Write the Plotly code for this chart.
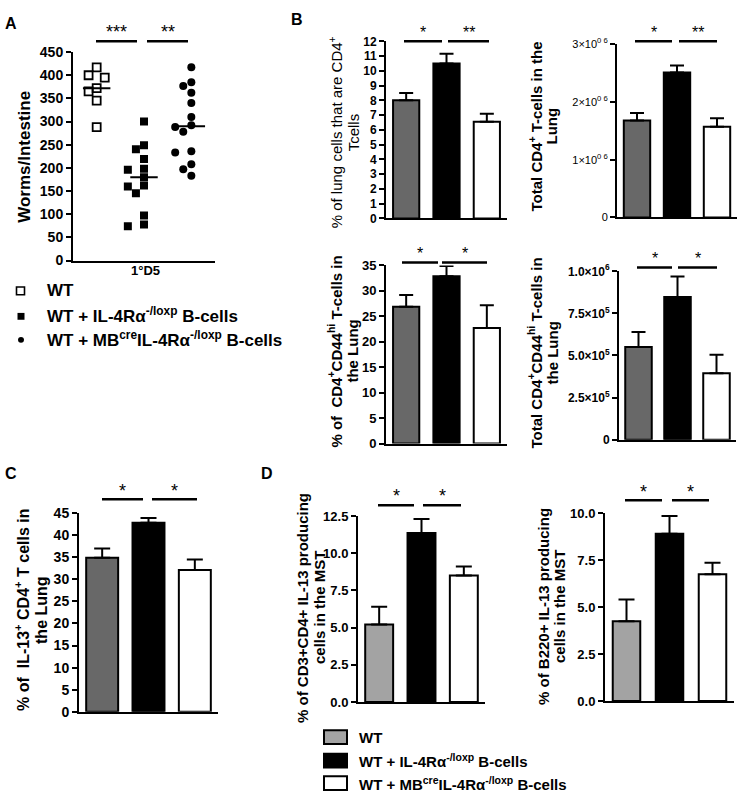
import plotly.graph_objects as go

W, H = 740, 801
FONT = "Liberation Sans, Arial, sans-serif"

# ---------------- data ----------------
groups = ["WT", "WT + IL-4Rα-/loxp B-cells", "WT + MBcre IL-4Rα-/loxp B-cells"]

# Panel A: worms per intestine (1°D5)
worms_wt = [417, 400, 395, 372, 365, 345, 288]
worms_il4 = [300, 249, 240, 219, 198, 196, 180, 162, 160, 145, 97, 78, 74]
worms_mb = [417, 385, 377, 362, 340, 310, 292, 288, 278, 236, 233, 208, 197, 183]

# Panel B
cd4_pct = [8.0, 10.5, 6.55]
cd4_pct_sem = [0.5, 0.65, 0.55]
cd4_total = [1.68e6, 2.51e6, 1.57e6]
cd4_total_sem = [0.13e6, 0.12e6, 0.15e6]
cd44_pct = [26.9, 32.9, 22.7]
cd44_pct_sem = [2.3, 2.0, 4.5]
cd44_total = [5.5e5, 8.47e5, 3.95e5]
cd44_total_sem = [0.9e5, 1.22e5, 1.09e5]
# Panel C
il13_cd4_pct = [34.9, 42.8, 32.1]
il13_cd4_pct_sem = [2.1, 1.1, 2.4]
# Panel D
mst_cd3cd4_pct = [5.2, 11.35, 8.5]
mst_cd3cd4_pct_sem = [1.2, 0.95, 0.6]
mst_b220_pct = [4.25, 8.9, 6.75]
mst_b220_pct_sem = [1.15, 0.95, 0.6]

# tick labels
b2_ticks = [0, 1e6, 2e6, 3e6]
b2_ticktext = ["0", "1×10<sup>0 6</sup>", "2×10<sup>0 6</sup>", "3×10<sup>0 6</sup>"]
b4_ticks = [0, 2.5e5, 5e5, 7.5e5, 1e6]
b4_ticktext = ["0", "2.5×10<sup>5</sup>", "5.0×10<sup>5</sup>", "7.5×10<sup>5</sup>", "1.0×10<sup>6</sup>"]
d_ticks1 = [0, 2.5, 5, 7.5, 10, 12.5]
d_ticks2 = [0, 2.5, 5, 7.5, 10]

DARK = "#686868"
LIGHT = "#a3a3a3"


def px(x):
    return x / W


def py(y):
    return 1 - y / H


fig = go.Figure()
layout = dict(width=W, height=H, margin=dict(l=0, r=0, t=0, b=0),
              paper_bgcolor="white", plot_bgcolor="white", showlegend=False,
              font=dict(family=FONT, color="black"))
shapes = []
annotations = []


def add_axes(n, x0, x1, ybot, ytop, yrange, tickvals, ticktext, tsize, bold=True):
    xa = dict(domain=[px(x0), px(x1)], range=[-0.5, 2.5], anchor="y%d" % n,
              showline=True, linecolor="black", linewidth=2, ticks="",
              showticklabels=False, showgrid=False, zeroline=False, fixedrange=True)
    ya = dict(domain=[py(ybot), py(ytop)], range=yrange, anchor="x%d" % n,
              showline=True, linecolor="black", linewidth=2, ticks="outside",
              ticklen=5, tickwidth=2, tickcolor="black", tickvals=tickvals,
              ticktext=ticktext, showgrid=False, zeroline=False, fixedrange=True,
              tickfont=dict(family=FONT, size=tsize, color="black",
                            weight="bold" if bold else "normal"))
    layout["xaxis" if n == 1 else "xaxis%d" % n] = xa
    layout["yaxis" if n == 1 else "yaxis%d" % n] = ya


def add_bars(n, vals, sems, colors, width, capw):
    fig.add_trace(go.Bar(
        x=[0, 1, 2], y=vals, width=width,
        marker=dict(color=colors, line=dict(color="black", width=2)),
        error_y=dict(type="data", array=sems, arrayminus=[0, 0, 0], symmetric=False,
                     color="black", thickness=2, width=capw),
        xaxis="x%d" % n, yaxis="y%d" % n, hoverinfo="skip"))


def text(x, y, s, size, bold=True, angle=0, xanchor="center", yanchor="middle"):
    annotations.append(dict(
        x=px(x), y=py(y), xref="paper", yref="paper", text=s, showarrow=False,
        textangle=angle, xanchor=xanchor, yanchor=yanchor,
        font=dict(family=FONT, size=size, color="black",
                  weight="bold" if bold else "normal")))


def sig(x0, x1, y, star, size=16):
    shapes.append(dict(type="line", xref="paper", yref="paper",
                       x0=px(x0), x1=px(x1), y0=py(y), y1=py(y),
                       line=dict(color="black", width=2.5)))
    text((x0 + x1) / 2, y - 9, star, size, bold=False)


# ---------------- Panel A ----------------
add_axes(1, 73, 215, 257, 44, [0, 450], list(range(0, 451, 50)),
         [str(v) for v in range(0, 451, 50)], 14)

A_PX_X = (215 - 73) / 3.0
A_PX_Y = (257 - 44) / 450.0


def swarm(values, diam=8.5):
    placed, offs = [], []
    for v in values:
        yv = v * A_PX_Y
        for k in [0, -1, 1, -2, 2, -3, 3]:
            xv = k * diam * 0.95
            if all((xv - a) ** 2 + (yv - b) ** 2 >= diam ** 2 for a, b in placed):
                break
        placed.append((xv, yv))
        offs.append(xv / A_PX_X)
    return offs


def median(v):
    s = sorted(v)
    m = len(s) // 2
    return s[m] if len(s) % 2 else (s[m - 1] + s[m]) / 2


for i, (vals, sym, size) in enumerate([(worms_wt, "square-open", 8),
                                        (worms_il4, "square", 8),
                                        (worms_mb, "circle", 8)]):
    offs = swarm(vals)
    fig.add_trace(go.Scatter(
        x=[i + o for o in offs], y=vals, mode="markers",
        marker=dict(symbol=sym, size=size, color="black",
                    line=dict(color="black", width=1.8 if sym == "square-open" else 0)),
        xaxis="x", yaxis="y", hoverinfo="skip"))
    m = median(vals)
    fig.add_trace(go.Scatter(x=[i - 0.29, i + 0.29], y=[m, m], mode="lines",
                             line=dict(color="black", width=2),
                             xaxis="x", yaxis="y", hoverinfo="skip"))

text(11, 15, "A", 16)
text(25, 151, "Worms/Intestine", 17, angle=-90)
text(145, 267, "1°D5", 13)
sig(96, 137, 33, "***", 18)
sig(147, 188, 33, "**", 18)

# legend A
shapes.append(dict(type="rect", xref="paper", yref="paper",
                   x0=px(16.5), x1=px(24.5), y0=py(292), y1=py(284),
                   line=dict(color="black", width=1.6), fillcolor="white"))
shapes.append(dict(type="rect", xref="paper", yref="paper",
                   x0=px(17.5), x1=px(24.5), y0=py(317.5), y1=py(310.5),
                   line=dict(color="black", width=0), fillcolor="black"))
shapes.append(dict(type="circle", xref="paper", yref="paper",
                   x0=px(18), x1=px(24), y0=py(341), y1=py(335),
                   line=dict(color="black", width=0), fillcolor="black"))
text(45, 288, "WT", 17, xanchor="left")
text(45, 313, "WT + IL-4Rα<sup>-/loxp</sup> B-cells", 17, xanchor="left")
text(45, 337, "WT + MB<sup>cre</sup>IL-4Rα<sup>-/loxp</sup> B-cells", 17, xanchor="left")

# ---------------- Panel B ----------------
text(297, 11, "B", 16)
# B1
add_axes(2, 386, 507, 214, 33, [0, 12], list(range(0, 13)),
         [str(v) for v in range(0, 13)], 12)
add_bars(2, cd4_pct, cd4_pct_sem, [DARK, "black", "white"], 0.65, 7)
text(335, 126, "% of lung cells that are CD4<sup>+</sup>", 15, bold=False, angle=-90)
text(353, 126, "Tcells", 15, bold=False, angle=-90)
sig(404, 442, 33, "*")
sig(448, 489, 33, "**")
# B2
add_axes(3, 617, 737, 213, 36, [0, 3e6], b2_ticks, b2_ticktext, 11, bold=False)
add_bars(3, cd4_total, cd4_total_sem, [DARK, "black", "white"], 0.66, 7)
text(535, 120, "Total CD4<sup>+</sup> T-cells in the", 15, angle=-90)
text(551, 120, "Lung", 15, angle=-90)
sig(635, 672, 33, "*")
sig(679, 717, 33, "**")
# B3
add_axes(4, 386, 507, 444, 262, [0, 35], list(range(0, 36, 5)),
         [str(v) for v in range(0, 36, 5)], 13)
add_bars(4, cd44_pct, cd44_pct_sem, [DARK, "black", "white"], 0.65, 7)
text(335, 350, "% of  CD4<sup>+</sup>CD44<sup>hi</sup> T-cells in", 15, angle=-90)
text(353, 350, "the Lung", 15, angle=-90)
sig(402, 438, 259, "*")
sig(442, 487, 259, "*")
# B4
add_axes(5, 619, 736, 440, 268, [0, 1e6], b4_ticks, b4_ticktext, 12)
add_bars(5, cd44_total, cd44_total_sem, [DARK, "black", "white"], 0.68, 7)
text(535, 352, "Total CD4<sup>+</sup>CD44<sup>hi</sup> T-cells in", 15, angle=-90)
text(553, 352, "the Lung", 15, angle=-90)
sig(637, 672, 264, "*")
sig(678, 717, 264, "*")

# ---------------- Panel C ----------------
text(11, 475, "C", 16)
add_axes(6, 79, 218, 718, 515, [0, 45], list(range(0, 46, 5)),
         [str(v) for v in range(0, 46, 5)], 14)
add_bars(6, il13_cd4_pct, il13_cd4_pct_sem, [DARK, "black", "white"], 0.69, 8)
text(22, 614, "% of  IL-13<sup>+</sup> CD4<sup>+</sup> T cells in", 16, angle=-90)
text(42, 614, "the Lung", 16, angle=-90)
sig(102, 143, 501, "*", 18)
sig(152, 197, 501, "*", 18)

# ---------------- Panel D ----------------
text(267, 475, "D", 16)
add_axes(7, 358, 485, 708, 518, [0, 12.5], d_ticks1,
         ["%.1f" % v for v in d_ticks1], 13)
add_bars(7, mst_cd3cd4_pct, mst_cd3cd4_pct_sem, [LIGHT, "black", "white"], 0.66, 8)
text(302, 612, "% of CD3+CD4+ IL-13 producing", 15, angle=-90)
text(319, 612, "cells in the MST", 15, angle=-90)
sig(378, 414, 507, "*", 18)
sig(423, 461, 507, "*", 18)

add_axes(8, 605, 734, 707, 515, [0, 10], d_ticks2,
         ["%.1f" % v for v in d_ticks2], 13)
add_bars(8, mst_b220_pct, mst_b220_pct_sem, [LIGHT, "black", "white"], 0.64, 8)
text(543, 611, "% of B220+ IL-13 producing", 15, angle=-90)
text(559, 611, "cells in the MST", 15, angle=-90)
sig(625, 662, 502, "*", 18)
sig(672, 709, 502, "*", 18)

# legend D
for yc, col in [(744, LIGHT), (768, "black"), (791, "white")]:
    shapes.append(dict(type="rect", xref="paper", yref="paper",
                       x0=px(324), x1=px(347), y0=py(yc + 7), y1=py(yc - 7),
                       line=dict(color="black", width=2), fillcolor=col))
text(357, 744, "WT", 15, xanchor="left")
text(357, 768, "WT + IL-4Rα<sup>-/loxp</sup> B-cells", 15, xanchor="left")
text(357, 791, "WT + MB<sup>cre</sup>IL-4Rα<sup>-/loxp</sup> B-cells", 15, xanchor="left")

layout["shapes"] = shapes
layout["annotations"] = annotations
fig.update_layout(**layout)
fig.write_html(
    "out.html",
    config={"displayModeBar": False, "staticPlot": True},
    post_script="document.body.style.margin='0';document.body.style.overflow='hidden';",
)
